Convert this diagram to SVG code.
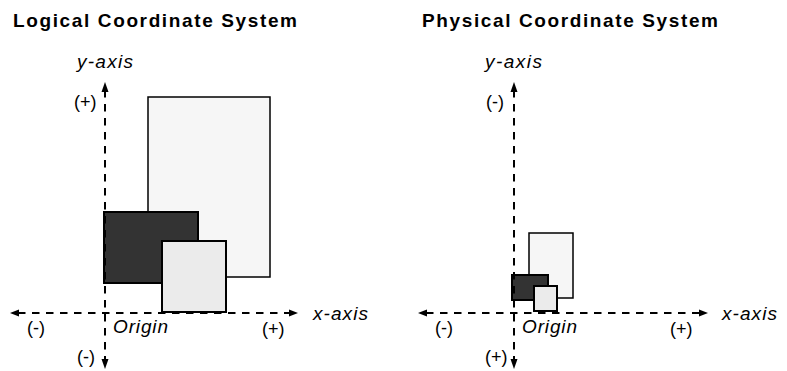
<svg xmlns="http://www.w3.org/2000/svg" width="787" height="371" viewBox="0 0 787 371">
<style>
.title{font-family:"Liberation Sans",Arial,sans-serif;font-weight:bold;font-size:19px;fill:#000}
.ax{font-family:"Liberation Sans",Arial,sans-serif;font-style:italic;font-size:19px;fill:#000}
.sg{font-family:"Liberation Sans",Arial,sans-serif;font-size:18px;fill:#000}
.axis{stroke:#000;stroke-width:2;stroke-dasharray:7.5 6.5;fill:none}
.big{fill:#f6f6f6;stroke:#000;stroke-width:1.5}
.dark{fill:#333;stroke:#000;stroke-width:2}
.mid{fill:#ebebeb;stroke:#000;stroke-width:2}
.head{fill:#000}
</style>
<g id="left-panel">
  <text class="title" x="13" y="27" textLength="284" lengthAdjust="spacing">Logical Coordinate System</text>
  <g id="left-rect-big"><rect class="big" x="148" y="97" width="122" height="180"/></g>
  <g id="left-rect-dark"><rect class="dark" x="104" y="212" width="94" height="71"/></g>
  <g id="left-rect-mid"><rect class="mid" x="162" y="241" width="64" height="71"/></g>
  <g id="left-connectors">
    <line class="axis" x1="105" y1="90" x2="105" y2="361"/>
    <line class="axis" x1="18" y1="313" x2="290" y2="313"/>
    <polygon class="head" points="105,82 101.5,92 108.5,92"/>
    <polygon class="head" points="105,369 101.5,359 108.5,359"/>
    <polygon class="head" points="10,313 19,309.5 19,316.5"/>
    <polygon class="head" points="298,313 289,309.5 289,316.5"/>
  </g>
  <text class="ax" x="77" y="68" textLength="56" lengthAdjust="spacing">y-axis</text>
  <text class="ax" x="313" y="320" textLength="55" lengthAdjust="spacing">x-axis</text>
  <text class="ax" x="113" y="333" textLength="55" lengthAdjust="spacing">Origin</text>
  <text class="sg" x="74" y="108">(+)</text>
  <text class="sg" x="27" y="334">(-)</text>
  <text class="sg" x="262" y="335">(+)</text>
  <text class="sg" x="77" y="363">(-)</text>
</g>
<g id="right-panel">
  <text class="title" x="422" y="27" textLength="296" lengthAdjust="spacing">Physical Coordinate System</text>
  <g id="right-rect-big"><rect class="big" x="529" y="233" width="44" height="65"/></g>
  <g id="right-rect-dark"><rect class="dark" x="512" y="275" width="36" height="25"/></g>
  <g id="right-rect-mid"><rect class="mid" x="534" y="286" width="23" height="25"/></g>
  <g id="right-connectors">
    <line class="axis" x1="514" y1="90" x2="514" y2="361"/>
    <line class="axis" x1="426" y1="313" x2="700" y2="313"/>
    <polygon class="head" points="514,82 510.5,92 517.5,92"/>
    <polygon class="head" points="514,369 510.5,359 517.5,359"/>
    <polygon class="head" points="418,313 427,309.5 427,316.5"/>
    <polygon class="head" points="708,313 699,309.5 699,316.5"/>
  </g>
  <text class="ax" x="485" y="68" textLength="57" lengthAdjust="spacing">y-axis</text>
  <text class="ax" x="722" y="320" textLength="55" lengthAdjust="spacing">x-axis</text>
  <text class="ax" x="522" y="333" textLength="55" lengthAdjust="spacing">Origin</text>
  <text class="sg" x="486" y="108">(-)</text>
  <text class="sg" x="435" y="334">(-)</text>
  <text class="sg" x="670" y="335">(+)</text>
  <text class="sg" x="485" y="363">(+)</text>
</g>
</svg>
